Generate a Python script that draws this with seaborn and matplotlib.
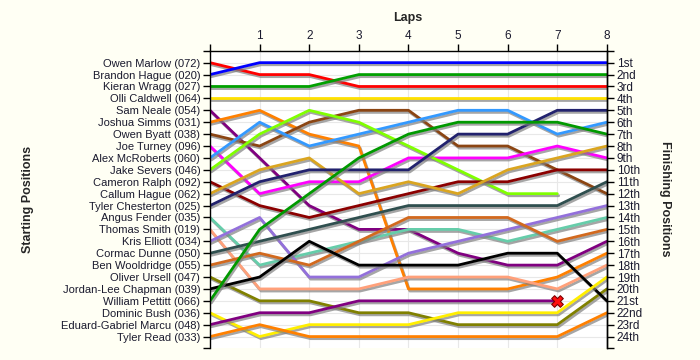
import pandas as pd
import matplotlib
matplotlib.use("Agg")
import matplotlib.pyplot as plt
import matplotlib.patheffects as pe
import seaborn as sns

# starting grid order, top to bottom
drivers = [
    "Owen Marlow (072)", "Brandon Hague (020)", "Kieran Wragg (027)", "Olli Caldwell (064)",
    "Sam Neale (054)", "Joshua Simms (031)", "Owen Byatt (038)", "Joe Turney (096)",
    "Alex McRoberts (060)", "Jake Severs (046)", "Cameron Ralph (092)", "Callum Hague (062)",
    "Tyler Chesterton (025)", "Angus Fender (035)", "Thomas Smith (019)", "Kris Elliott (034)",
    "Cormac Dunne (050)", "Ben Wooldridge (055)", "Oliver Ursell (047)", "Jordan-Lee Chapman (039)",
    "William Pettitt (066)", "Dominic Bush (036)", "Eduard-Gabriel Marcu (048)", "Tyler Read (033)",
]

colours = [
    "#FF0000", "#0000FF", "#00A000", "#FFE000",
    "#800080", "#FF8000", "#8B4513", "#FF00FF",
    "#3399FF", "#80FF00", "#8B0000", "#DAA520",
    "#22226E", "#66CDAA", "#FFA07A", "#9370DB",
    "#2F4F4F", "#D2691E", "#808000", "#000000",
    "#009900", "#FFEE00", "#800080", "#FF8000",
]

# position at the end of each lap (lap 0 = grid)
positions = [
    [1, 2, 2, 3, 3, 3, 3, 3, 3],
    [2, 1, 1, 1, 1, 1, 1, 1, 1],
    [3, 3, 3, 2, 2, 2, 2, 2, 2],
    [4, 4, 4, 4, 4, 4, 4, 4, 4],
    [5, 9, 13, 15, 15, 17, 18, 18, 16],
    [6, 5, 7, 8, 20, 20, 20, 19, 17],
    [7, 8, 6, 5, 5, 8, 8, 10, 12],
    [8, 12, 11, 11, 9, 9, 9, 8, 9],
    [9, 6, 8, 7, 6, 5, 5, 7, 6],
    [10, 7, 5, 6, 8, 10, 12, 12],
    [11, 13, 14, 13, 12, 11, 11, 10, 10],
    [12, 10, 9, 12, 11, 12, 10, 9, 8],
    [13, 11, 10, 10, 10, 7, 7, 5, 5],
    [14, 18, 17, 16, 15, 15, 16, 15, 14],
    [15, 20, 20, 20, 19, 19, 19, 20, 18],
    [16, 14, 19, 19, 17, 16, 15, 14, 13],
    [17, 16, 15, 14, 13, 13, 13, 13, 11],
    [18, 17, 18, 16, 14, 14, 14, 16, 15],
    [19, 21, 21, 22, 22, 23, 23, 23, 20],
    [20, 19, 16, 18, 18, 18, 17, 17, 21],
    [21, 15, 12, 9, 7, 6, 6, 6, 7],
    [22, 24, 23, 23, 23, 22, 22, 22, 19],
    [23, 22, 22, 21, 21, 21, 21, 21],
    [24, 23, 24, 24, 24, 24, 24, 24, 22],
]

laps = list(range(9))

finish_labels = [
    "1st", "2nd", "3rd", "4th", "5th", "6th", "7th", "8th", "9th", "10th", "11th", "12th",
    "13th", "14th", "15th", "16th", "17th", "18th", "19th", "20th", "21st", "22nd", "23rd", "24th",
]

retired = "Eduard-Gabriel Marcu (048)"

rows = []
for name, pos in zip(drivers, positions):
    for lap, p in zip(laps, pos):
        rows.append((name, lap, p))
df = pd.DataFrame(rows, columns=["driver", "lap", "position"])

sns.set_style("white")
plt.rcParams["font.family"] = ["Liberation Sans", "DejaVu Sans"]

fig, ax = plt.subplots(figsize=(7, 3.6), dpi=100)
fig.patch.set_facecolor("#FFFFF4")
ax.set_facecolor("white")
fig.subplots_adjust(left=0.3, right=0.867, top=0.859, bottom=0.032)

sns.lineplot(
    data=df, x="lap", y="position", hue="driver", hue_order=drivers,
    palette=dict(zip(drivers, colours)), estimator=None, sort=False,
    linewidth=2, legend=False, ax=ax,
)
for line in ax.get_lines():
    line.set_path_effects([
        pe.SimpleLineShadow(offset=(1, -1.5), shadow_color="#808080", alpha=0.7),
        pe.Normal(),
    ])

last = df[df["driver"] == retired].iloc[[-1]]
sns.scatterplot(data=last, x="lap", y="position", marker="X", color="#FF1010",
                edgecolor="#800000", linewidth=0.8, s=70, zorder=5, legend=False, ax=ax)

ax.set_xlim(0, 8)
ax.set_ylim(25, 0)
ax.xaxis.tick_top()
ax.set_xticks(range(1, 9))
ax.set_xticks([0], minor=True)
ax.set_yticks(range(1, 25))
ax.set_yticklabels(drivers)
ax.set_yticks([0, 25], minor=True)
ax.tick_params(which="both", direction="out", length=5, width=1, color="black",
               labelsize=8, labelcolor="#1A1A2E")
ax.tick_params(axis="x", which="both", top=True, bottom=False, pad=1, labelsize=8.5)
ax.tick_params(axis="y", which="both", pad=2)
ax.grid(True, which="major", color="#E8E8E8", linewidth=0.8)
ax.set_axisbelow(True)
ax.set_xlabel("")
ax.set_ylabel("")
for side in ["left", "top", "right"]:
    ax.spines[side].set_color("black")
    ax.spines[side].set_linewidth(1)
ax.spines["bottom"].set_visible(False)

ax2 = ax.twinx()
ax2.set_ylim(25, 0)
ax2.set_yticks(range(1, 25))
ax2.set_yticklabels(finish_labels)
ax2.set_yticks([0, 25], minor=True)
ax2.tick_params(which="both", direction="out", length=5, width=1, color="black",
                labelsize=8.5, labelcolor="#1A1A2E", pad=2)
ax2.spines["right"].set_color("black")
ax2.spines["right"].set_linewidth(1)
for side in ["left", "top", "bottom"]:
    ax2.spines[side].set_visible(False)

fig.text(408 / 700, 1 - 18 / 360, "Laps", ha="center", va="center", fontsize=9, fontweight="bold")
fig.text(28 / 700, 1 - 199 / 360, "Starting Positions", rotation=90, ha="center", va="center",
         fontsize=9, fontweight="bold")
fig.text(665 / 700, 1 - 199 / 360, "Finishing Positions", rotation=270, ha="center", va="center",
         fontsize=9, fontweight="bold")

fig.savefig("out.png", dpi=100, facecolor=fig.get_facecolor())
